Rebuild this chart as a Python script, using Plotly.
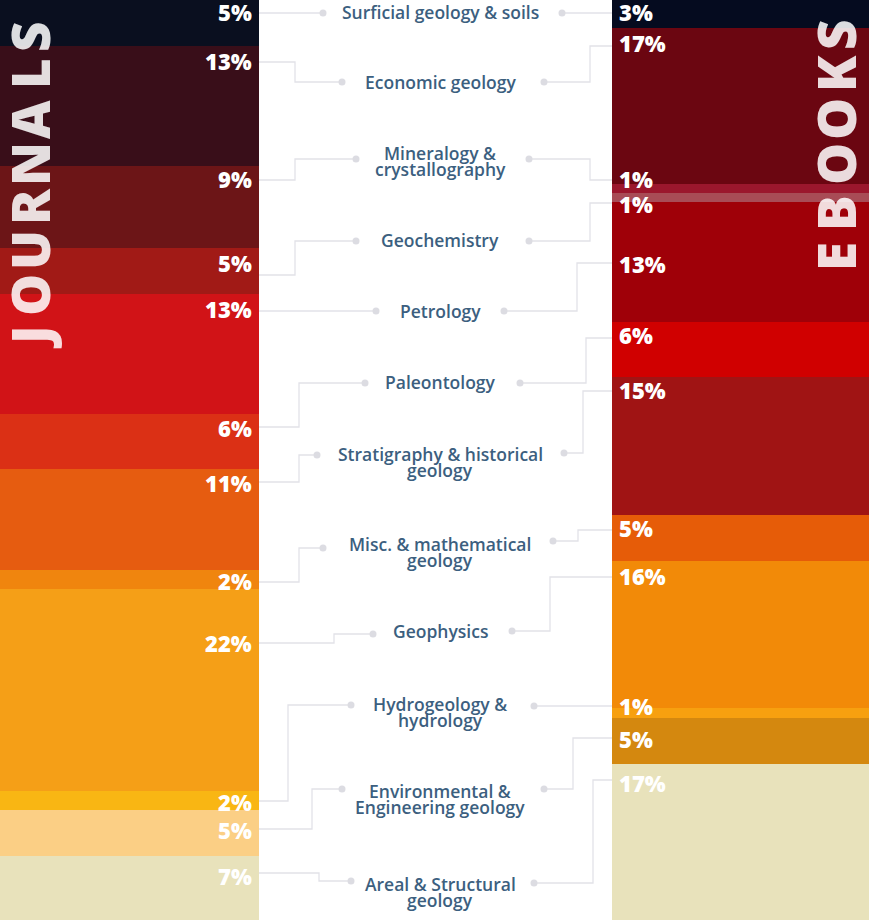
import plotly.graph_objects as go

# ---------------- data ----------------
categories = [
    "Surficial geology & soils", "Economic geology", "Mineralogy & crystallography",
    "Geochemistry", "Petrology", "Paleontology", "Stratigraphy & historical geology",
    "Misc. & mathematical geology", "Geophysics", "Hydrogeology & hydrology",
    "Environmental & Engineering geology", "Areal & Structural geology",
]
label_lines = [
    ["Surficial geology & soils"], ["Economic geology"], ["Mineralogy &", "crystallography"],
    ["Geochemistry"], ["Petrology"], ["Paleontology"], ["Stratigraphy & historical", "geology"],
    ["Misc. & mathematical", "geology"], ["Geophysics"], ["Hydrogeology &", "hydrology"],
    ["Environmental &", "Engineering geology"], ["Areal & Structural", "geology"],
]
journals = [5, 13, 9, 5, 13, 6, 11, 2, 22, 2, 5, 7]
ebooks = [3, 17, 1, 1, 13, 6, 15, 5, 16, 1, 5, 17]

# ---------------- styles ----------------
journal_colors = ["#0a0f1f", "#390e19", "#6c1517", "#a11a16", "#d11317", "#db3015",
                  "#e65c10", "#f0850e", "#f59f17", "#f9b613", "#fbcf85", "#e8e2bb"]
ebook_colors = ["#050b1f", "#6b0611", "#9b172d", "#a84c56", "#9f0008", "#d00000",
                "#a01414", "#e65c08", "#f28a08", "#f7a00f", "#d4880f", "#e8e2bb"]

W, H = 869, 920
def py(px):
    return px / H * 100.0

# layout geometry (pixels)
left_bar = (0, 259)
right_bar = (612, 869)
left_pct_y = [12, 61, 179, 263, 309, 428, 483, 581, 643, 802, 830, 876]
right_pct_y = [12, 43, 179, 204, 264, 335, 390, 528, 576, 706, 739, 783]
mid_label_y = [12, 82, 153, 240, 311, 382, 454, 544, 631, 704, 791, 884]
# left connectors: (y at bar, bend x, y at dot, dot x)
left_conn = [(13, 295, 13, 323), (62, 295, 82, 342), (180, 295, 159, 356), (275, 295, 241, 356),
             (311, 295, 311, 376), (427, 299, 383, 365), (482, 299, 455, 317), (582, 299, 548, 323),
             (643, 334, 634, 373), (801, 288, 705, 351), (829, 312, 789, 342), (873, 319, 881, 351)]
# right connectors: (dot x, y at dot, bend x, y at bar)
right_conn = [(562, 13, 590, 13), (544, 82, 590, 46), (529, 159, 590, 180), (529, 241, 590, 203),
              (504, 311, 577, 263), (520, 383, 586, 338), (564, 453, 583, 391), (553, 541, 578, 530),
              (512, 631, 550, 577), (534, 706, 590, 706), (544, 789, 573, 738), (534, 883, 593, 780)]

fig = go.Figure()
lx = (left_bar[0] + left_bar[1]) / 2
lw = left_bar[1] - left_bar[0]
rx = (right_bar[0] + right_bar[1]) / 2
rw = right_bar[1] - right_bar[0]
for i, cat in enumerate(categories):
    fig.add_trace(go.Bar(
        x=[lx, rx], y=[journals[i], ebooks[i]], width=[lw, rw], name=cat,
        marker=dict(color=[journal_colors[i], ebook_colors[i]], line=dict(width=0)),
        hovertemplate=cat + ": %{y}%<extra></extra>",
    ))

shapes = []
dots_x, dots_y = [], []
line_col = "#e2e2e8"
for (yb, bx, yd, dx) in left_conn:
    shapes.append(dict(type="path", xref="x", yref="y",
                       path=f"M {left_bar[1]},{py(yb)} L {bx},{py(yb)} L {bx},{py(yd)} L {dx},{py(yd)}",
                       line=dict(color=line_col, width=1.3), layer="below"))
    dots_x.append(dx); dots_y.append(py(yd))
for (dx, yd, bx, yb) in right_conn:
    shapes.append(dict(type="path", xref="x", yref="y",
                       path=f"M {dx},{py(yd)} L {bx},{py(yd)} L {bx},{py(yb)} L {right_bar[0]},{py(yb)}",
                       line=dict(color=line_col, width=1.3), layer="below"))
    dots_x.append(dx); dots_y.append(py(yd))

fig.add_trace(go.Scatter(x=dots_x, y=dots_y, mode="markers",
                         marker=dict(size=7, color="#dcdce2"), hoverinfo="skip"))

ann = []
pct_font = dict(family="Open Sans, sans-serif", size=22, color="white", weight=800)
for i in range(len(categories)):
    ann.append(dict(x=254, y=py(left_pct_y[i]), text=f"{journals[i]}%", xanchor="right",
                    yanchor="middle", showarrow=False, font=pct_font))
    ann.append(dict(x=617, y=py(right_pct_y[i]), text=f"{ebooks[i]}%", xanchor="left",
                    yanchor="middle", showarrow=False, font=pct_font))
    for k, line in enumerate(label_lines[i]):
        ann.append(dict(x=440, y=py(mid_label_y[i] + 16 * k), text=line, xanchor="center",
                        yanchor="middle", showarrow=False,
                        font=dict(family="Open Sans, sans-serif", size=17.5, color="#3c5f7f", weight=600)))

big_font = dict(family="Open Sans, sans-serif", size=53, color="rgba(255,255,255,0.86)", weight=800)
j_letters = list("JOURNALS")
j_centers = [337, 295, 250, 207, 164, 120, 74, 37]
for ch, c in zip(j_letters, j_centers):
    ann.append(dict(x=29, y=py(c), text=ch, textangle=-90, showarrow=False,
                    xanchor="center", yanchor="middle", font=big_font))
e_letters = list("EBOOKS")
e_centers = [257, 213, 164, 119, 74, 35]
for ch, c in zip(e_letters, e_centers):
    ann.append(dict(x=835, y=py(c), text=ch, textangle=-90, showarrow=False,
                    xanchor="center", yanchor="middle", font=big_font))

fig.update_layout(
    width=W, height=H, margin=dict(l=0, r=0, t=0, b=0),
    paper_bgcolor="white", plot_bgcolor="white",
    barmode="stack", showlegend=False,
    xaxis=dict(range=[0, W], visible=False, fixedrange=True),
    yaxis=dict(range=[100, 0], visible=False, fixedrange=True),
    shapes=shapes, annotations=ann,
)
fig.write_html("out.html", config={"displayModeBar": False},
               post_script="document.body.style.margin='0';document.body.style.overflow='hidden';")
